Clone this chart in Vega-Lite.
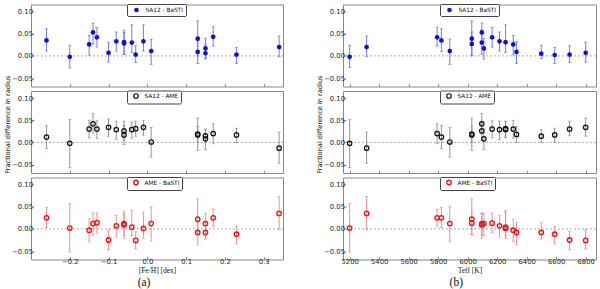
{
  "$schema": "https://vega.github.io/schema/vega-lite/v6.json",
  "padding": {"left": 3, "top": 2.5, "right": 2, "bottom": 0},
  "autosize": {"type": "pad"},
  "background": "white",
  "datasets": {
    "feh": [
      {"c": "SA12 - BaSTI", "x": -0.26, "y": 0.035, "lo": 0.011, "hi": 0.061},
      {"c": "SA12 - BaSTI", "x": -0.20, "y": -0.002, "lo": -0.027, "hi": 0.024},
      {"c": "SA12 - BaSTI", "x": -0.15, "y": 0.026, "lo": 0.002, "hi": 0.046},
      {"c": "SA12 - BaSTI", "x": -0.14, "y": 0.053, "lo": 0.027, "hi": 0.074},
      {"c": "SA12 - BaSTI", "x": -0.13, "y": 0.042, "lo": 0.020, "hi": 0.064},
      {"c": "SA12 - BaSTI", "x": -0.10, "y": 0.007, "lo": -0.014, "hi": 0.031},
      {"c": "SA12 - BaSTI", "x": -0.08, "y": 0.033, "lo": 0.011, "hi": 0.054},
      {"c": "SA12 - BaSTI", "x": -0.06, "y": 0.031, "lo": 0.004, "hi": 0.058},
      {"c": "SA12 - BaSTI", "x": -0.06, "y": 0.028, "lo": 0.003, "hi": 0.053},
      {"c": "SA12 - BaSTI", "x": -0.04, "y": 0.030, "lo": 0.008, "hi": 0.070},
      {"c": "SA12 - BaSTI", "x": -0.03, "y": 0.003, "lo": -0.015, "hi": 0.023},
      {"c": "SA12 - BaSTI", "x": -0.01, "y": 0.033, "lo": 0.011, "hi": 0.070},
      {"c": "SA12 - BaSTI", "x": 0.01, "y": 0.011, "lo": -0.019, "hi": 0.038},
      {"c": "SA12 - BaSTI", "x": 0.13, "y": 0.039, "lo": 0.000, "hi": 0.079},
      {"c": "SA12 - BaSTI", "x": 0.13, "y": 0.009, "lo": -0.017, "hi": 0.035},
      {"c": "SA12 - BaSTI", "x": 0.15, "y": 0.017, "lo": -0.005, "hi": 0.039},
      {"c": "SA12 - BaSTI", "x": 0.15, "y": 0.006, "lo": -0.007, "hi": 0.025},
      {"c": "SA12 - BaSTI", "x": 0.17, "y": 0.043, "lo": 0.022, "hi": 0.066},
      {"c": "SA12 - BaSTI", "x": 0.23, "y": 0.003, "lo": -0.017, "hi": 0.019},
      {"c": "SA12 - BaSTI", "x": 0.34, "y": 0.020, "lo": -0.002, "hi": 0.045},
      {"c": "SA12 - AME", "x": -0.26, "y": 0.012, "lo": -0.014, "hi": 0.038},
      {"c": "SA12 - AME", "x": -0.20, "y": -0.002, "lo": -0.057, "hi": 0.052},
      {"c": "SA12 - AME", "x": -0.15, "y": 0.030, "lo": 0.010, "hi": 0.050},
      {"c": "SA12 - AME", "x": -0.14, "y": 0.042, "lo": 0.021, "hi": 0.065},
      {"c": "SA12 - AME", "x": -0.13, "y": 0.030, "lo": 0.009, "hi": 0.050},
      {"c": "SA12 - AME", "x": -0.10, "y": 0.034, "lo": 0.014, "hi": 0.053},
      {"c": "SA12 - AME", "x": -0.08, "y": 0.029, "lo": 0.007, "hi": 0.048},
      {"c": "SA12 - AME", "x": -0.06, "y": 0.026, "lo": 0.005, "hi": 0.048},
      {"c": "SA12 - AME", "x": -0.06, "y": 0.017, "lo": -0.005, "hi": 0.038},
      {"c": "SA12 - AME", "x": -0.04, "y": 0.029, "lo": 0.010, "hi": 0.046},
      {"c": "SA12 - AME", "x": -0.03, "y": 0.031, "lo": 0.014, "hi": 0.048},
      {"c": "SA12 - AME", "x": -0.01, "y": 0.034, "lo": 0.016, "hi": 0.050},
      {"c": "SA12 - AME", "x": 0.01, "y": 0.001, "lo": -0.033, "hi": 0.034},
      {"c": "SA12 - AME", "x": 0.13, "y": 0.019, "lo": -0.018, "hi": 0.055},
      {"c": "SA12 - AME", "x": 0.13, "y": 0.017, "lo": 0.000, "hi": 0.036},
      {"c": "SA12 - AME", "x": 0.15, "y": 0.015, "lo": 0.000, "hi": 0.030},
      {"c": "SA12 - AME", "x": 0.15, "y": 0.008, "lo": -0.016, "hi": 0.030},
      {"c": "SA12 - AME", "x": 0.17, "y": 0.020, "lo": -0.003, "hi": 0.042},
      {"c": "SA12 - AME", "x": 0.23, "y": 0.017, "lo": 0.000, "hi": 0.032},
      {"c": "SA12 - AME", "x": 0.34, "y": -0.013, "lo": -0.047, "hi": 0.023},
      {"c": "AME - BaSTI", "x": -0.26, "y": 0.025, "lo": 0.003, "hi": 0.048},
      {"c": "AME - BaSTI", "x": -0.20, "y": 0.002, "lo": -0.052, "hi": 0.057},
      {"c": "AME - BaSTI", "x": -0.15, "y": -0.003, "lo": -0.029, "hi": 0.022},
      {"c": "AME - BaSTI", "x": -0.14, "y": 0.012, "lo": -0.014, "hi": 0.036},
      {"c": "AME - BaSTI", "x": -0.13, "y": 0.014, "lo": -0.009, "hi": 0.036},
      {"c": "AME - BaSTI", "x": -0.10, "y": -0.025, "lo": -0.047, "hi": -0.002},
      {"c": "AME - BaSTI", "x": -0.08, "y": 0.007, "lo": -0.018, "hi": 0.030},
      {"c": "AME - BaSTI", "x": -0.06, "y": 0.012, "lo": -0.015, "hi": 0.040},
      {"c": "AME - BaSTI", "x": -0.06, "y": 0.009, "lo": -0.021, "hi": 0.035},
      {"c": "AME - BaSTI", "x": -0.04, "y": 0.004, "lo": -0.015, "hi": 0.042},
      {"c": "AME - BaSTI", "x": -0.03, "y": -0.026, "lo": -0.045, "hi": -0.006},
      {"c": "AME - BaSTI", "x": -0.01, "y": 0.001, "lo": -0.021, "hi": 0.038},
      {"c": "AME - BaSTI", "x": 0.01, "y": 0.012, "lo": -0.028, "hi": 0.050},
      {"c": "AME - BaSTI", "x": 0.13, "y": 0.022, "lo": -0.013, "hi": 0.068},
      {"c": "AME - BaSTI", "x": 0.13, "y": -0.008, "lo": -0.036, "hi": 0.015},
      {"c": "AME - BaSTI", "x": 0.15, "y": 0.012, "lo": -0.015, "hi": 0.035},
      {"c": "AME - BaSTI", "x": 0.15, "y": -0.008, "lo": -0.023, "hi": 0.014},
      {"c": "AME - BaSTI", "x": 0.17, "y": 0.025, "lo": 0.005, "hi": 0.045},
      {"c": "AME - BaSTI", "x": 0.23, "y": -0.012, "lo": -0.034, "hi": 0.006},
      {"c": "AME - BaSTI", "x": 0.34, "y": 0.035, "lo": -0.002, "hi": 0.073}
    ],
    "teff": [
      {"c": "SA12 - BaSTI", "x": 5200, "y": -0.002, "lo": -0.026, "hi": 0.024},
      {"c": "SA12 - BaSTI", "x": 5315, "y": 0.020, "lo": -0.002, "hi": 0.045},
      {"c": "SA12 - BaSTI", "x": 5793, "y": 0.042, "lo": 0.022, "hi": 0.065},
      {"c": "SA12 - BaSTI", "x": 5822, "y": 0.035, "lo": 0.010, "hi": 0.061},
      {"c": "SA12 - BaSTI", "x": 5879, "y": 0.011, "lo": -0.019, "hi": 0.038},
      {"c": "SA12 - BaSTI", "x": 6028, "y": 0.027, "lo": 0.002, "hi": 0.054},
      {"c": "SA12 - BaSTI", "x": 6028, "y": 0.039, "lo": 0.000, "hi": 0.079},
      {"c": "SA12 - BaSTI", "x": 6096, "y": 0.053, "lo": 0.027, "hi": 0.074},
      {"c": "SA12 - BaSTI", "x": 6096, "y": 0.030, "lo": 0.003, "hi": 0.058},
      {"c": "SA12 - BaSTI", "x": 6110, "y": 0.017, "lo": -0.007, "hi": 0.039},
      {"c": "SA12 - BaSTI", "x": 6166, "y": 0.042, "lo": 0.020, "hi": 0.064},
      {"c": "SA12 - BaSTI", "x": 6216, "y": 0.033, "lo": 0.011, "hi": 0.054},
      {"c": "SA12 - BaSTI", "x": 6257, "y": 0.031, "lo": 0.008, "hi": 0.070},
      {"c": "SA12 - BaSTI", "x": 6309, "y": 0.026, "lo": 0.002, "hi": 0.046},
      {"c": "SA12 - BaSTI", "x": 6331, "y": 0.009, "lo": -0.017, "hi": 0.032},
      {"c": "SA12 - BaSTI", "x": 6499, "y": 0.005, "lo": -0.006, "hi": 0.024},
      {"c": "SA12 - BaSTI", "x": 6590, "y": 0.002, "lo": -0.017, "hi": 0.019},
      {"c": "SA12 - BaSTI", "x": 6691, "y": 0.003, "lo": -0.015, "hi": 0.023},
      {"c": "SA12 - BaSTI", "x": 6800, "y": 0.007, "lo": -0.014, "hi": 0.031},
      {"c": "SA12 - AME", "x": 5200, "y": -0.002, "lo": -0.057, "hi": 0.052},
      {"c": "SA12 - AME", "x": 5315, "y": -0.013, "lo": -0.047, "hi": 0.023},
      {"c": "SA12 - AME", "x": 5793, "y": 0.020, "lo": -0.003, "hi": 0.042},
      {"c": "SA12 - AME", "x": 5822, "y": 0.012, "lo": -0.014, "hi": 0.038},
      {"c": "SA12 - AME", "x": 5879, "y": 0.001, "lo": -0.033, "hi": 0.034},
      {"c": "SA12 - AME", "x": 6028, "y": 0.019, "lo": -0.018, "hi": 0.055},
      {"c": "SA12 - AME", "x": 6028, "y": 0.017, "lo": 0.000, "hi": 0.036},
      {"c": "SA12 - AME", "x": 6096, "y": 0.042, "lo": 0.021, "hi": 0.065},
      {"c": "SA12 - AME", "x": 6096, "y": 0.026, "lo": 0.005, "hi": 0.048},
      {"c": "SA12 - AME", "x": 6110, "y": 0.008, "lo": -0.016, "hi": 0.030},
      {"c": "SA12 - AME", "x": 6166, "y": 0.030, "lo": 0.010, "hi": 0.050},
      {"c": "SA12 - AME", "x": 6216, "y": 0.029, "lo": 0.007, "hi": 0.048},
      {"c": "SA12 - AME", "x": 6257, "y": 0.031, "lo": 0.014, "hi": 0.048},
      {"c": "SA12 - AME", "x": 6257, "y": 0.029, "lo": 0.010, "hi": 0.046},
      {"c": "SA12 - AME", "x": 6309, "y": 0.030, "lo": 0.009, "hi": 0.050},
      {"c": "SA12 - AME", "x": 6331, "y": 0.018, "lo": 0.000, "hi": 0.036},
      {"c": "SA12 - AME", "x": 6499, "y": 0.014, "lo": 0.000, "hi": 0.029},
      {"c": "SA12 - AME", "x": 6590, "y": 0.017, "lo": 0.000, "hi": 0.032},
      {"c": "SA12 - AME", "x": 6691, "y": 0.030, "lo": 0.015, "hi": 0.048},
      {"c": "SA12 - AME", "x": 6800, "y": 0.034, "lo": 0.014, "hi": 0.055},
      {"c": "AME - BaSTI", "x": 5200, "y": 0.002, "lo": -0.052, "hi": 0.057},
      {"c": "AME - BaSTI", "x": 5315, "y": 0.035, "lo": -0.002, "hi": 0.073},
      {"c": "AME - BaSTI", "x": 5793, "y": 0.025, "lo": 0.005, "hi": 0.045},
      {"c": "AME - BaSTI", "x": 5822, "y": 0.025, "lo": 0.003, "hi": 0.048},
      {"c": "AME - BaSTI", "x": 5879, "y": 0.012, "lo": -0.028, "hi": 0.050},
      {"c": "AME - BaSTI", "x": 6028, "y": 0.022, "lo": -0.013, "hi": 0.068},
      {"c": "AME - BaSTI", "x": 6028, "y": 0.013, "lo": -0.013, "hi": 0.040},
      {"c": "AME - BaSTI", "x": 6096, "y": 0.012, "lo": -0.014, "hi": 0.036},
      {"c": "AME - BaSTI", "x": 6096, "y": 0.009, "lo": -0.021, "hi": 0.035},
      {"c": "AME - BaSTI", "x": 6110, "y": 0.012, "lo": -0.015, "hi": 0.035},
      {"c": "AME - BaSTI", "x": 6166, "y": 0.013, "lo": -0.009, "hi": 0.036},
      {"c": "AME - BaSTI", "x": 6216, "y": 0.007, "lo": -0.018, "hi": 0.030},
      {"c": "AME - BaSTI", "x": 6257, "y": 0.004, "lo": -0.015, "hi": 0.042},
      {"c": "AME - BaSTI", "x": 6257, "y": 0.001, "lo": -0.021, "hi": 0.038},
      {"c": "AME - BaSTI", "x": 6309, "y": -0.003, "lo": -0.029, "hi": 0.022},
      {"c": "AME - BaSTI", "x": 6331, "y": -0.008, "lo": -0.036, "hi": 0.015},
      {"c": "AME - BaSTI", "x": 6499, "y": -0.008, "lo": -0.023, "hi": 0.014},
      {"c": "AME - BaSTI", "x": 6590, "y": -0.012, "lo": -0.034, "hi": 0.006},
      {"c": "AME - BaSTI", "x": 6691, "y": -0.025, "lo": -0.047, "hi": -0.006},
      {"c": "AME - BaSTI", "x": 6800, "y": -0.026, "lo": -0.045, "hi": -0.002}
    ]
  },
  "spacing": 30,
  "bounds": "full",
  "resolve": {"scale": {"color": "independent"}},
  "hconcat": [
    {
      "data": {"name": "feh"},
      "spacing": 4.5,
      "bounds": "flush",
      "resolve": {"scale": {"color": "independent"}},
      "title": {"text": "(a)", "orient": "bottom", "anchor": "middle", "font": "Liberation Serif", "fontSize": 11.5, "fontWeight": "normal", "color": "#111", "offset": 3},
      "vconcat": [
        {
          "width": 252, "height": 82,
          "transform": [{"filter": "datum.c == 'SA12 - BaSTI'"}],
          "layer": [
            {"data": {"values": [{}]}, "mark": {"type": "rule", "color": "#999", "strokeDash": [2, 2], "strokeWidth": 0.8}, "encoding": {"y": {"datum": 0, "type": "quantitative"}}},
            {"mark": {"type": "errorbar", "color": "#6b6be8", "rule": {"strokeWidth": 0.9}, "ticks": {"size": 3, "thickness": 0.9}},
             "encoding": {
               "x": {"field": "x", "type": "quantitative", "scale": {"domain": [-0.3, 0.35], "nice": false, "zero": false}, "axis": {"values": [-0.2, -0.1, 0, 0.1, 0.2, 0.3], "tickCount": 20, "labels": false, "title": null}},
               "y": {"field": "lo", "type": "quantitative", "scale": {"domain": [-0.069, 0.116], "nice": false, "zero": false}, "axis": {"values": [-0.05, 0, 0.05, 0.1], "tickCount": 20, "format": ".2f", "title": null}},
               "y2": {"field": "hi"}}},
            {"mark": {"type": "point", "filled": true, "size": 22, "opacity": 1},
             "encoding": {
               "x": {"field": "x", "type": "quantitative"},
               "y": {"field": "y", "type": "quantitative"},
               "color": {"field": "c", "type": "nominal", "scale": {"range": ["#1010d8"]}, "legend": {"orient": "none", "legendX": 96, "legendY": -0.5, "title": null, "padding": 2.5, "strokeColor": "#444", "fillColor": "white", "cornerRadius": 1.5, "labelFont": "DejaVu Sans", "labelFontSize": 5.8, "labelColor": "#111", "symbolSize": 22, "symbolOffset": 3.5, "labelOffset": 5.5, "symbolType": "circle"}}}}
          ]
        },
        {
          "width": 252, "height": 82,
          "transform": [{"filter": "datum.c == 'SA12 - AME'"}],
          "layer": [
            {"data": {"values": [{}]}, "mark": {"type": "rule", "color": "#999", "strokeDash": [2, 2], "strokeWidth": 0.8}, "encoding": {"y": {"datum": 0, "type": "quantitative"}}},
            {"mark": {"type": "errorbar", "color": "#8a8a8a", "rule": {"strokeWidth": 0.9}, "ticks": {"size": 3, "thickness": 0.9}},
             "encoding": {
               "x": {"field": "x", "type": "quantitative", "scale": {"domain": [-0.3, 0.35], "nice": false, "zero": false}, "axis": {"values": [-0.2, -0.1, 0, 0.1, 0.2, 0.3], "tickCount": 20, "labels": false, "title": null}},
               "y": {"field": "lo", "type": "quantitative", "scale": {"domain": [-0.069, 0.116], "nice": false, "zero": false}, "axis": {"values": [-0.05, 0, 0.05, 0.1], "tickCount": 20, "format": ".2f", "title": "Fractional difference in radius", "titleY": 33}},
               "y2": {"field": "hi"}}},
            {"mark": {"type": "point", "filled": false, "size": 20, "strokeWidth": 1.2, "opacity": 1},
             "encoding": {
               "x": {"field": "x", "type": "quantitative"},
               "y": {"field": "y", "type": "quantitative"},
               "color": {"field": "c", "type": "nominal", "scale": {"range": ["#111111"]}, "legend": {"orient": "none", "legendX": 96, "legendY": -0.5, "title": null, "padding": 2.5, "strokeColor": "#444", "fillColor": "white", "cornerRadius": 1.5, "labelFont": "DejaVu Sans", "labelFontSize": 5.8, "labelColor": "#111", "symbolSize": 20, "symbolStrokeWidth": 1.2, "symbolOffset": 3.5, "labelOffset": 5.5, "symbolType": "circle"}}}}
          ]
        },
        {
          "width": 252, "height": 82,
          "transform": [{"filter": "datum.c == 'AME - BaSTI'"}],
          "layer": [
            {"data": {"values": [{}]}, "mark": {"type": "rule", "color": "#999", "strokeDash": [2, 2], "strokeWidth": 0.8}, "encoding": {"y": {"datum": 0, "type": "quantitative"}}},
            {"mark": {"type": "errorbar", "color": "#f08585", "rule": {"strokeWidth": 0.9}, "ticks": {"size": 3, "thickness": 0.9}},
             "encoding": {
               "x": {"field": "x", "type": "quantitative", "scale": {"domain": [-0.3, 0.35], "nice": false, "zero": false}, "axis": {"values": [-0.2, -0.1, 0, 0.1, 0.2, 0.3], "tickCount": 20, "format": ".1f", "title": "[Fe/H] [dex]"}},
               "y": {"field": "lo", "type": "quantitative", "scale": {"domain": [-0.069, 0.116], "nice": false, "zero": false}, "axis": {"values": [-0.05, 0, 0.05, 0.1], "tickCount": 20, "format": ".2f", "title": null}},
               "y2": {"field": "hi"}}},
            {"mark": {"type": "point", "filled": false, "size": 20, "strokeWidth": 1.3, "opacity": 1},
             "encoding": {
               "x": {"field": "x", "type": "quantitative"},
               "y": {"field": "y", "type": "quantitative"},
               "color": {"field": "c", "type": "nominal", "scale": {"range": ["#e8141c"]}, "legend": {"orient": "none", "legendX": 96, "legendY": -0.5, "title": null, "padding": 2.5, "strokeColor": "#444", "fillColor": "white", "cornerRadius": 1.5, "labelFont": "DejaVu Sans", "labelFontSize": 5.8, "labelColor": "#111", "symbolSize": 20, "symbolStrokeWidth": 1.3, "symbolOffset": 3.5, "labelOffset": 5.5, "symbolType": "circle"}}}}
          ]
        }
      ]
    },
    {
      "data": {"name": "teff"},
      "spacing": 4.5,
      "bounds": "flush",
      "resolve": {"scale": {"color": "independent"}},
      "title": {"text": "(b)", "orient": "bottom", "anchor": "middle", "font": "Liberation Serif", "fontSize": 11.5, "fontWeight": "normal", "color": "#111", "offset": 3},
      "vconcat": [
        {
          "width": 253, "height": 82,
          "transform": [{"filter": "datum.c == 'SA12 - BaSTI'"}],
          "layer": [
            {"data": {"values": [{}]}, "mark": {"type": "rule", "color": "#999", "strokeDash": [2, 2], "strokeWidth": 0.8}, "encoding": {"y": {"datum": 0, "type": "quantitative"}}},
            {"mark": {"type": "errorbar", "color": "#6b6be8", "rule": {"strokeWidth": 0.9}, "ticks": {"size": 3, "thickness": 0.9}},
             "encoding": {
               "x": {"field": "x", "type": "quantitative", "scale": {"domain": [5155, 6870], "nice": false, "zero": false}, "axis": {"values": [5200, 5400, 5600, 5800, 6000, 6200, 6400, 6600, 6800], "tickCount": 20, "labels": false, "title": null}},
               "y": {"field": "lo", "type": "quantitative", "scale": {"domain": [-0.069, 0.116], "nice": false, "zero": false}, "axis": {"values": [-0.05, 0, 0.05, 0.1], "tickCount": 20, "format": ".2f", "title": null}},
               "y2": {"field": "hi"}}},
            {"mark": {"type": "point", "filled": true, "size": 22, "opacity": 1},
             "encoding": {
               "x": {"field": "x", "type": "quantitative"},
               "y": {"field": "y", "type": "quantitative"},
               "color": {"field": "c", "type": "nominal", "scale": {"range": ["#1010d8"]}, "legend": {"orient": "none", "legendX": 97, "legendY": -0.5, "title": null, "padding": 2.5, "strokeColor": "#444", "fillColor": "white", "cornerRadius": 1.5, "labelFont": "DejaVu Sans", "labelFontSize": 5.8, "labelColor": "#111", "symbolSize": 22, "symbolOffset": 3.5, "labelOffset": 5.5, "symbolType": "circle"}}}}
          ]
        },
        {
          "width": 253, "height": 82,
          "transform": [{"filter": "datum.c == 'SA12 - AME'"}],
          "layer": [
            {"data": {"values": [{}]}, "mark": {"type": "rule", "color": "#999", "strokeDash": [2, 2], "strokeWidth": 0.8}, "encoding": {"y": {"datum": 0, "type": "quantitative"}}},
            {"mark": {"type": "errorbar", "color": "#8a8a8a", "rule": {"strokeWidth": 0.9}, "ticks": {"size": 3, "thickness": 0.9}},
             "encoding": {
               "x": {"field": "x", "type": "quantitative", "scale": {"domain": [5155, 6870], "nice": false, "zero": false}, "axis": {"values": [5200, 5400, 5600, 5800, 6000, 6200, 6400, 6600, 6800], "tickCount": 20, "labels": false, "title": null}},
               "y": {"field": "lo", "type": "quantitative", "scale": {"domain": [-0.069, 0.116], "nice": false, "zero": false}, "axis": {"values": [-0.05, 0, 0.05, 0.1], "tickCount": 20, "format": ".2f", "title": "Fractional difference in radius", "titleY": 33}},
               "y2": {"field": "hi"}}},
            {"mark": {"type": "point", "filled": false, "size": 20, "strokeWidth": 1.2, "opacity": 1},
             "encoding": {
               "x": {"field": "x", "type": "quantitative"},
               "y": {"field": "y", "type": "quantitative"},
               "color": {"field": "c", "type": "nominal", "scale": {"range": ["#111111"]}, "legend": {"orient": "none", "legendX": 97, "legendY": -0.5, "title": null, "padding": 2.5, "strokeColor": "#444", "fillColor": "white", "cornerRadius": 1.5, "labelFont": "DejaVu Sans", "labelFontSize": 5.8, "labelColor": "#111", "symbolSize": 20, "symbolStrokeWidth": 1.2, "symbolOffset": 3.5, "labelOffset": 5.5, "symbolType": "circle"}}}}
          ]
        },
        {
          "width": 253, "height": 82,
          "transform": [{"filter": "datum.c == 'AME - BaSTI'"}],
          "layer": [
            {"data": {"values": [{}]}, "mark": {"type": "rule", "color": "#999", "strokeDash": [2, 2], "strokeWidth": 0.8}, "encoding": {"y": {"datum": 0, "type": "quantitative"}}},
            {"mark": {"type": "errorbar", "color": "#f08585", "rule": {"strokeWidth": 0.9}, "ticks": {"size": 3, "thickness": 0.9}},
             "encoding": {
               "x": {"field": "x", "type": "quantitative", "scale": {"domain": [5155, 6870], "nice": false, "zero": false}, "axis": {"values": [5200, 5400, 5600, 5800, 6000, 6200, 6400, 6600, 6800], "tickCount": 20, "format": "d", "title": "Teff [K]"}},
               "y": {"field": "lo", "type": "quantitative", "scale": {"domain": [-0.069, 0.116], "nice": false, "zero": false}, "axis": {"values": [-0.05, 0, 0.05, 0.1], "tickCount": 20, "format": ".2f", "title": null}},
               "y2": {"field": "hi"}}},
            {"mark": {"type": "point", "filled": false, "size": 20, "strokeWidth": 1.3, "opacity": 1},
             "encoding": {
               "x": {"field": "x", "type": "quantitative"},
               "y": {"field": "y", "type": "quantitative"},
               "color": {"field": "c", "type": "nominal", "scale": {"range": ["#e8141c"]}, "legend": {"orient": "none", "legendX": 97, "legendY": -0.5, "title": null, "padding": 2.5, "strokeColor": "#444", "fillColor": "white", "cornerRadius": 1.5, "labelFont": "DejaVu Sans", "labelFontSize": 5.8, "labelColor": "#111", "symbolSize": 20, "symbolStrokeWidth": 1.3, "symbolOffset": 3.5, "labelOffset": 5.5, "symbolType": "circle"}}}}
          ]
        }
      ]
    }
  ],
  "config": {
    "view": {"stroke": "#888", "strokeWidth": 1},
    "axis": {"domain": false, "grid": false, "tickSize": -3, "tickColor": "#777", "tickWidth": 0.8, "labelFont": "DejaVu Sans", "labelFontSize": 6.8, "labelColor": "#222", "labelPadding": 1.5, "labelOverlap": false, "labelBound": false, "labelFlush": false, "titleColor": "#111"},
    "axisY": {"titleFont": "DejaVu Sans", "titleFontSize": 6.6, "titleFontWeight": "normal", "titlePadding": 1.5},
    "axisX": {"titleFont": "Liberation Serif", "titleFontSize": 7.5, "titleFontWeight": "normal", "titlePadding": 1, "labelPadding": 2}
  }
}
